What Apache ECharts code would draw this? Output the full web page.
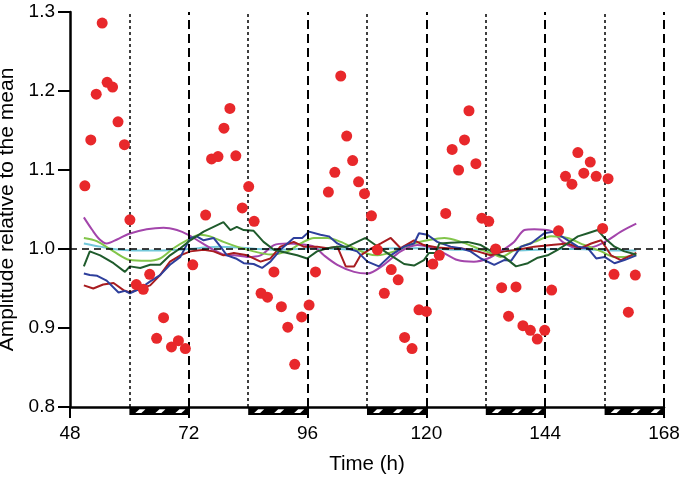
<!DOCTYPE html>
<html>
<head>
<meta charset="utf-8">
<script src="https://cdn.jsdelivr.net/npm/echarts@6/dist/echarts.min.js"></script>
<style>html,body{margin:0;padding:0;background:#fff;}#chart{width:685px;height:480px;}</style>
</head>
<body>
<div id="chart"></div>
<script>
var xTicks = [48, 72, 96, 120, 144, 168];
var yTicks = [0.8, 0.9, 1.0, 1.1, 1.2, 1.3];
var lightsOff = [60, 84, 108, 132, 156];
var lightsOn = [72, 96, 120, 144, 168];
var darkPeriods = [[60, 72], [84, 96], [108, 120], [132, 144], [156, 168]];

var dots = [[51.0,1.080],[52.2,1.138],[53.3,1.196],[54.5,1.286],[55.5,1.211],[56.6,1.205],[57.7,1.161],[59.0,1.132],[60.1,1.037],[61.4,0.955],[62.8,0.949],[64.1,0.968],[65.5,0.887],[66.9,0.913],[68.5,0.876],[69.9,0.884],[71.3,0.874],[72.8,0.980],[75.4,1.043],[76.6,1.114],[77.9,1.117],[79.1,1.153],[80.3,1.178],[81.5,1.118],[82.8,1.052],[84.1,1.079],[85.2,1.035],[86.6,0.944],[87.9,0.939],[89.2,0.971],[90.7,0.927],[92.0,0.901],[93.4,0.854],[94.8,0.914],[96.3,0.929],[97.6,0.971],[100.2,1.072],[101.5,1.097],[102.7,1.219],[103.9,1.143],[105.1,1.112],[106.3,1.085],[107.5,1.070],[108.9,1.042],[110.1,0.999],[111.5,0.944],[112.9,0.974],[114.3,0.961],[115.6,0.888],[117.1,0.874],[118.5,0.923],[120.0,0.921],[121.3,0.981],[122.6,0.992],[123.9,1.045],[125.2,1.126],[126.5,1.100],[127.7,1.138],[128.6,1.175],[130.0,1.108],[131.2,1.039],[132.6,1.035],[134.0,1.000],[135.2,0.951],[136.6,0.915],[138.1,0.952],[139.5,0.903],[141.0,0.897],[142.4,0.886],[143.9,0.897],[145.3,0.948],[146.7,1.023],[148.1,1.092],[149.4,1.082],[150.6,1.122],[151.8,1.096],[153.1,1.110],[154.3,1.092],[155.6,1.026],[156.7,1.089],[157.9,0.968],[160.8,0.920],[162.2,0.967]];

var purple = [[50.8,1.040],[52.5,1.024],[54,1.012],[55.4,1.007],[57.5,1.012],[59.8,1.019],[63.5,1.025],[66.9,1.027],[69.6,1.024],[71.9,1.018],[74.3,1.009],[77,0.999],[79.7,0.992],[81.1,0.992],[83.8,0.990],[86.5,0.992],[89.2,1.005],[91.9,1.007],[94.6,1.006],[97.3,1.003],[99.3,0.992],[102,0.980],[105.4,0.971],[108.1,0.969],[111.4,0.980],[114.8,0.997],[118.2,1.005],[120.2,1.003],[122.9,0.997],[126.3,0.986],[129.6,0.984],[132.4,0.988],[135,0.997],[137.7,1.009],[139.8,1.024],[141.8,1.025],[145.2,1.023],[147.5,1.009],[150.6,1.001],[153.9,1.003],[156.6,1.011],[159.3,1.022],[162.4,1.032]];

var darkGreen = [[50.8,0.978],[52,0.997],[54.1,0.992],[56.8,0.982],[59.1,0.971],[60.1,0.978],[62.2,0.976],[64.2,0.980],[66.2,0.980],[68.2,0.992],[70.3,1.001],[72.3,1.011],[75,1.022],[77,1.028],[79,1.034],[80.4,1.024],[81.7,1.028],[83.1,1.024],[85.1,1.023],[87.1,1.009],[89.2,0.999],[91.9,0.995],[93.9,0.992],[95.9,0.988],[97.9,0.997],[100,1.001],[102,1.003],[104,1.003],[106,1.009],[107.7,1.014],[109.7,1.005],[112.8,0.992],[115.5,0.981],[117.5,0.979],[119.5,0.986],[120.5,0.995],[121.9,0.995],[122.6,1.007],[124.9,1.008],[128.3,1.009],[131,1.005],[133.7,0.995],[135.7,0.990],[138.1,0.978],[140.5,0.982],[142.5,0.989],[144.5,0.992],[146.5,0.999],[148.5,1.007],[150.6,1.016],[152.6,1.020],[154.6,1.024],[156,1.014],[158,1.003],[160,0.997],[162.4,0.993]];

var lightGreen = [[50.8,1.014],[53.4,1.010],[56.8,0.997],[60.1,0.986],[63.5,0.985],[66.2,0.988],[68.9,1.001],[71.6,1.011],[74.3,1.018],[76.3,1.016],[79,1.009],[81.7,1.003],[85.1,0.997],[88.5,0.993],[91.9,0.997],[94.6,1.007],[97.3,1.014],[100,1.014],[102.7,1.009],[105.4,1.001],[108.1,0.994],[110.1,0.992],[113.5,0.997],[116.9,1.006],[120.2,1.011],[123.6,1.014],[127,1.009],[130.3,1.001],[133.7,0.993],[135,0.990],[138.4,1.001],[141.8,1.009],[145.2,1.016],[148.5,1.014],[151.9,1.005],[155.3,0.997],[158,0.990],[160,0.990],[162.4,0.993]];

var blue = [[50.8,0.969],[52,0.967],[53.5,0.966],[55.4,0.960],[57.8,0.945],[59.1,0.947],[60.1,0.944],[62.2,0.950],[64.2,0.959],[66.2,0.967],[68.2,0.980],[70.3,0.990],[72.3,1.014],[73.6,1.016],[75,1.011],[77,1.014],[78.4,1.003],[79.7,0.992],[81.5,0.988],[83.1,0.982],[85.1,0.981],[86.8,0.976],[88.5,0.984],[90.5,0.999],[93.2,1.014],[94.9,1.014],[96.3,1.022],[98.6,1.018],[100.3,1.016],[102,1.007],[104,1.001],[106,0.997],[108.1,0.984],[110.4,0.978],[112.8,0.992],[115.5,1.003],[117.5,1.007],[118.5,1.020],[120.2,1.018],[122.2,1.009],[124.9,1.003],[126.9,1.001],[128.9,0.997],[131,0.988],[133.7,0.980],[135.7,0.986],[137.1,0.985],[139.1,1.003],[141.1,1.007],[143.8,1.020],[145.8,1.022],[147.8,1.014],[150.6,1.003],[152.6,1.001],[154.3,0.988],[156,0.990],[158,0.982],[160,0.986],[162.4,0.992]];

var darkRed = [[50.8,0.954],[52.7,0.950],[54.7,0.955],[56.8,0.957],[58.8,0.948],[60.1,0.945],[62.2,0.950],[64.2,0.954],[66.2,0.967],[68.2,0.984],[70.3,0.992],[72.3,0.997],[75,0.999],[77,0.997],[79,0.992],[81.1,0.995],[83.8,0.992],[86.5,0.984],[88.5,0.988],[90.5,1.003],[93.2,1.009],[95.2,1.003],[97.9,1.003],[100,1.001],[102,1.003],[103.7,0.978],[105.4,0.978],[106.7,0.992],[108.7,1.0],[110.8,1.007],[112.8,1.014],[114.8,1.001],[117.5,1.011],[119.5,1.005],[122.2,1.002],[124.3,1.001],[126.9,1.001],[130.3,0.997],[133,0.992],[135.7,0.997],[138.4,0.999],[141.8,1.003],[145.2,1.005],[148.5,1.007],[151.2,1.001],[153.3,1.007],[155.3,1.011],[157.3,0.992],[159.3,0.986],[162.4,0.995]];

var cyan = [[50.8,1.007],[54.1,1.003],[58.1,0.999],[62,0.998],[66,0.998],[70,0.999],[74,1.001],[78,1.003],[82,1.002],[86,1.0],[90,0.999],[94,1.0],[98,1.001],[102,1.0],[106,0.999],[110,1.0],[114,1.001],[118,1.001],[122,1.0],[126,0.999],[130,0.999],[134,0.998],[138,0.998],[142,0.999],[146,1.0],[150,1.0],[154,0.999],[158,0.998],[162.4,0.998]];

var FONT = 'Liberation Sans, Arial, sans-serif';
var chart = echarts.init(document.getElementById('chart'), null, {renderer: 'canvas'});

function lineSeries(data, color, smooth) {
  return {type: 'line', data: data, symbol: 'none', smooth: smooth ? 0.3 : false,
    lineStyle: {color: color, width: 2}, z: 3, silent: true};
}

var option = {
  animation: false,
  backgroundColor: '#fff',
  grid: {left: 70, right: 21, top: 12, bottom: 73, containLabel: false, outerBoundsMode: 'none'},
  xAxis: {
    type: 'value', min: 48, max: 168, interval: 24,
    name: 'Time (h)', nameLocation: 'middle', nameGap: 47,
    nameTextStyle: {fontFamily: FONT, fontSize: 20.5, color: '#000'},
    axisLine: {show: true, onZero: false, lineStyle: {color: '#000', width: 2.5}},
    axisTick: {show: true, length: 11, inside: false, lineStyle: {color: '#000', width: 2}},
    axisLabel: {fontFamily: FONT, fontSize: 19, color: '#000', margin: 17,
      formatter: function (v) { return xTicks.indexOf(v) >= 0 ? String(v) : ''; }},
    splitLine: {show: false}
  },
  yAxis: {
    type: 'value', min: 0.8, max: 1.3, interval: 0.1,
    name: 'Amplitude relative to the mean', nameLocation: 'middle', nameGap: 38,
    nameTextStyle: {fontFamily: FONT, fontSize: 21, color: '#000'},
    axisLine: {show: true, onZero: false, lineStyle: {color: '#000', width: 2.5}},
    axisTick: {show: true, length: 12, inside: false, lineStyle: {color: '#000', width: 2}},
    axisLabel: {fontFamily: FONT, fontSize: 19, color: '#000', margin: 15,
      formatter: function (v) { return v.toFixed(1); }},
    splitLine: {show: false}
  },
  series: [
    {
      type: 'line', data: [], z: 1, silent: true,
      markLine: {
        silent: true, symbol: 'none', animation: false,
        label: {show: false},
        data: lightsOff.map(function (x) { return {xAxis: x, lineStyle: {color: '#000', width: 1.5, type: [3, 3]}}; })
          .concat(lightsOn.map(function (x) { return {xAxis: x, lineStyle: {color: '#000', width: 2, type: [9, 5]}}; }))
          .concat([{yAxis: 1.0, lineStyle: {color: '#000', width: 1.5, type: [7, 5]}}])
      }
    },
    lineSeries(cyan, '#72c8da', true),
    lineSeries(purple, '#a345ab', true),
    lineSeries(lightGreen, '#82c54a', true),
    lineSeries(darkRed, '#a81c20', false),
    lineSeries(blue, '#2e3f9c', false),
    lineSeries(darkGreen, '#1f5b2c', false),
    {
      type: 'scatter', data: dots, symbol: 'circle', symbolSize: 11,
      itemStyle: {color: '#e8282b', opacity: 1}, z: 5, silent: true
    },
    {
      type: 'custom', data: darkPeriods, z: 6, clip: false, silent: true,
      renderItem: function (params, api) {
        var s = api.coord([api.value(0), 0.8]);
        var e = api.coord([api.value(1), 0.8]);
        var y = s[1];
        var w = e[0] - s[0];
        var h = 8;
        var children = [{type: 'rect', shape: {x: s[0], y: y, width: w, height: h}, style: {fill: '#000'}}];
        for (var k = 0; k < 3; k++) {
          var x0 = s[0] + 6 + k * 20;
          children.push({type: 'polygon', shape: {points: [[x0, y + 6], [x0 + 6, y + 6], [x0 + 10, y + 2.2], [x0 + 4, y + 2.2]]}, style: {fill: '#fff'}});
        }
        return {type: 'group', children: children};
      }
    }
  ]
};
chart.setOption(option);
</script>
</body>
</html>
